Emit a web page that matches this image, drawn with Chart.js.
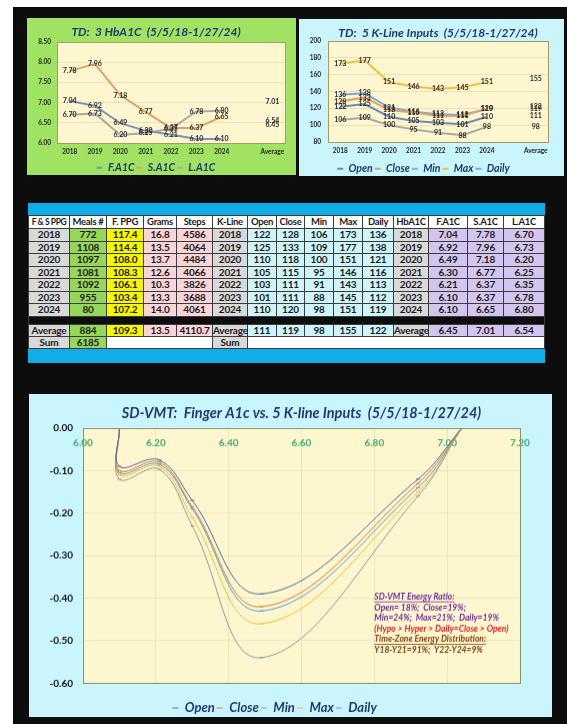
<!DOCTYPE html>
<html>
<head>
<meta charset="utf-8">
<script src="https://cdn.jsdelivr.net/npm/chart.js@4.4.1/dist/chart.umd.min.js"></script>
<style>
  html, body { margin: 0; padding: 0; background: #fff; }
  body { width: 567px; height: 724px; position: relative; overflow: hidden; font-family: Lato, "Open Sans", sans-serif; }
  #backdrop { position: absolute; left: 13px; top: 7px; width: 554px; height: 717px; background: #0d0d0d; }
  .panel, .box { position: absolute; }
  #hbaPanel { left: 27px; top: 18px; width: 269px; height: 157px; background: #a0e262; }
  #kPanel { left: 299px; top: 19px; width: 265px; height: 157px; background: #c9f5fd; }
  #vmtPanel { left: 29px; top: 394px; width: 523px; height: 323px; background: #c9f5fd; }
  #hbaBox { left: 27px; top: 18px; width: 269px; height: 165px; }
  #kBox { left: 299px; top: 19px; width: 265px; height: 165px; }
  #vmtBox { left: 29px; top: 394px; width: 523px; height: 329.5px; }
  #tableWrap { position: absolute; left: 28px; top: 203px; width: 517px; }
  .band { background: #12ade6; }
  #grid { display: grid; gap: 1px; padding: 1px; background: #3c3c3c;
    grid-template-columns: 40px 36px 36px 32px 35px 34px 28px 27px 28px 28px 30px 34px 38px 35px 40px;
    grid-template-rows: 12px repeat(7, 11.5px) 7px 11px 11px; }
  #grid div { font: bold 10px Lato, sans-serif; letter-spacing: -0.2px; text-align: center; line-height: 11.5px; color: #1b1b1b; white-space: nowrap; overflow: visible; }
  #grid div.head { background: #fff; font-size: 9.5px; letter-spacing: -0.3px; line-height: 12px; }
  #grid div.head:first-child { font-size: 8.5px; letter-spacing: -0.4px; }
  #grid div.gap { background: #0d0d0d; grid-column: 1 / -1; }
</style>
</head>
<body>
<div id="backdrop"></div>
<div class="panel" id="hbaPanel"></div>
<div class="panel" id="kPanel"></div>
<div class="panel" id="vmtPanel"></div>
<div class="box" id="hbaBox"><canvas id="hbaChart"></canvas></div>
<div class="box" id="kBox"><canvas id="kChart"></canvas></div>
<div class="box" id="vmtBox"><canvas id="vmtChart"></canvas></div>
<div id="tableWrap">
  <div class="band" style="height:12px"></div>
  <div id="grid"></div>
  <div class="band" style="height:14px"></div>
</div>
<script>
// ---- data ----
const years = ['2018', '2019', '2020', '2021', '2022', '2023', '2024'];
const chartCats = ['2018', '2019', '2020', '2021', '2022', '2023', '2024', '', 'Average'];

const meals = [772, 1108, 1097, 1081, 1092, 955, 80];
const fPpg = [117.4, 114.4, 108.0, 108.3, 106.1, 103.4, 107.2];
const grams = [16.8, 13.5, 13.7, 12.6, 10.3, 13.3, 14.0];
const steps = [4586, 4064, 4484, 4066, 3826, 3688, 4061];
const ppgAverages = ['884', '109.3', '13.5', '4110.7'];
const mealsSum = 6185;

const kOpen = [122, 125, 110, 105, 103, 101, 110];
const kClose = [128, 133, 118, 115, 111, 111, 120];
const kMin = [106, 109, 100, 95, 91, 88, 98];
const kMax = [173, 177, 151, 146, 143, 145, 151];
const kDaily = [136, 138, 121, 116, 113, 112, 119];
const kAverages = [111, 119, 98, 155, 122]; // open, close, min, max, daily

const fA1c = [7.04, 6.92, 6.49, 6.30, 6.21, 6.10, 6.10];
const sA1c = [7.78, 7.96, 7.18, 6.77, 6.37, 6.37, 6.65];
const lA1c = [6.70, 6.73, 6.20, 6.25, 6.35, 6.78, 6.80];
const a1cAverages = [6.45, 7.01, 6.54]; // F, S, L

// SD-VMT values, one per year, plotted against finger A1c (fA1c)
const vmtOpen = [0, -0.12, -0.39, -0.17, -0.075, -0.09, 0];
const vmtClose = [0, -0.13, -0.42, -0.185, -0.08, -0.10, 0];
const vmtMin = [0, -0.16, -0.54, -0.23, -0.097, -0.12, 0];
const vmtMax = [0, -0.15, -0.46, -0.21, -0.09, -0.11, 0];
const vmtDaily = [0, -0.14, -0.43, -0.19, -0.085, -0.105, 0];

const vmtNotes = [
  { text: 'SD-VMT Energy Ratio:', color: '#7030a0', underline: true },
  { text: 'Open= 18%;  Close=19%;', color: '#7030a0' },
  { text: 'Min=24%;  Max=21%;  Daily=19%', color: '#7030a0' },
  { text: '(Hypo > Hyper > Daily=Close > Open)', color: '#e3262b' },
  { text: 'Time-Zone Energy Distribution:', color: '#8b4513', underline: true },
  { text: 'Y18-Y21=91%;  Y22-Y24=9%', color: '#7a4410' }
];

// ---- table ----
const headers = ['F & S PPG', 'Meals #', 'F. PPG', 'Grams', 'Steps', 'K-Line', 'Open', 'Close', 'Min', 'Max', 'Daily', 'HbA1C', 'F.A1C', 'S.A1C', 'L.A1C'];
const colBg = ['#d9d9d9', '#96d65a', '#f6f600', '#f9d4d8', '#f9d4d8', '#d9d9d9', '#cdf5fb', '#cdf5fb', '#cdf5fb', '#cdf5fb', '#cdf5fb', '#d9d9d9', '#d2c6f0', '#d2c6f0', '#d2c6f0'];

const grid = document.getElementById('grid');
function cell(text, bg, cls, span) {
  const d = document.createElement('div');
  d.textContent = text;
  if (bg) d.style.background = bg;
  if (cls) d.className = cls;
  if (span) d.style.gridColumn = 'span ' + span;
  grid.appendChild(d);
}
headers.forEach(h => cell(h, null, 'head'));
years.forEach((y, i) => {
  const row = [y, meals[i], fPpg[i].toFixed(1), grams[i].toFixed(1), steps[i], y,
    kOpen[i], kClose[i], kMin[i], kMax[i], kDaily[i], y,
    fA1c[i].toFixed(2), sA1c[i].toFixed(2), lA1c[i].toFixed(2)];
  row.forEach((v, c) => cell(v, colBg[c]));
});
cell('', null, 'gap');
['Average', ...ppgAverages, 'Average', ...kAverages, 'Average', ...a1cAverages.map(v => v.toFixed(2))]
  .forEach((v, c) => cell(v, colBg[c]));
cell('Sum', colBg[0]);
cell(mealsSum, colBg[1]);
cell('', '#fff', null, 3);
cell('Sum', colBg[5]);
cell('', '#fff', null, 9);

// ---- plugins ----
const plotFrame = {
  id: 'plotFrame',
  beforeDraw(chart, args, opts) {
    const { ctx, chartArea: a } = chart;
    ctx.save();
    ctx.fillStyle = opts.fill;
    ctx.fillRect(a.left, a.top, a.width, a.height);
    ctx.restore();
  },
  afterDraw(chart, args, opts) {
    const { ctx, chartArea: a } = chart;
    ctx.save();
    ctx.strokeStyle = opts.stroke;
    ctx.lineWidth = 1;
    ctx.strokeRect(Math.round(a.left) + 0.5, Math.round(a.top) + 0.5, Math.round(a.width), Math.round(a.height));
    ctx.restore();
  }
};

const valueLabels = {
  id: 'valueLabels',
  afterDatasetsDraw(chart, args, opts) {
    const ctx = chart.ctx;
    ctx.save();
    ctx.font = opts.font;
    ctx.fillStyle = opts.color;
    ctx.textAlign = 'center';
    ctx.textBaseline = 'middle';
    chart.data.datasets.forEach((ds, i) => {
      chart.getDatasetMeta(i).data.forEach((pt, j) => {
        const v = ds.data[j];
        if (v == null) return;
        ctx.fillText(v.toFixed(opts.digits), pt.x, pt.y);
      });
    });
    ctx.restore();
  }
};

const noteBox = {
  id: 'noteBox',
  afterDatasetsDraw(chart, args, opts) {
    const { ctx, scales } = chart;
    const x = scales.x.getPixelForValue(opts.x);
    let y = scales.y.getPixelForValue(opts.y);
    ctx.save();
    ctx.font = 'italic bold 8.5px Lato';
    ctx.textBaseline = 'middle';
    vmtNotes.forEach(l => {
      ctx.fillStyle = l.color;
      ctx.fillText(l.text, x, y);
      if (l.underline) ctx.fillRect(x, y + 4.5, ctx.measureText(l.text).width, 0.8);
      y += opts.step;
    });
    ctx.restore();
  }
};

Chart.defaults.font.family = 'Lato';
Chart.defaults.animation = false;

const navy = '#1f3a6e';
const tickFont = { size: 6.5, weight: 'bold' };

function legendOpts(size, boxW, pad) {
  return {
    position: 'bottom',
    labels: {
      color: navy, font: { size: size, weight: 'bold', style: 'italic' },
      usePointStyle: true, pointStyle: 'line', pointStyleWidth: boxW, boxHeight: boxW, padding: pad
    }
  };
}

// ---- TD: 3 HbA1C ----
const hbaColors = ['#7894ba', '#dba36c', '#a9aaa6'];
new Chart(document.getElementById('hbaChart'), {
  type: 'line',
  data: {
    labels: chartCats,
    datasets: [
      { label: 'F.A1C', data: [...fA1c, null, a1cAverages[0]] },
      { label: 'S.A1C', data: [...sA1c, null, a1cAverages[1]] },
      { label: 'L.A1C', data: [...lA1c, null, a1cAverages[2]] }
    ].map((d, i) => Object.assign(d, { borderColor: hbaColors[i], backgroundColor: hbaColors[i], borderWidth: 2, pointRadius: 0 }))
  },
  options: {
    responsive: true, maintainAspectRatio: false,
    layout: { padding: { right: 11 } },
    plugins: {
      title: { display: true, text: 'TD:  3 HbA1C  (5/5/18-1/27/24)', color: navy,
        font: { size: 12, weight: 'bold', style: 'italic' }, padding: { top: 6.8, bottom: 2.8 } },
      legend: legendOpts(10.5, 6, 2),
      tooltip: { enabled: false },
      plotFrame: { fill: '#fef6cf', stroke: '#a89a62' },
      valueLabels: { digits: 2, font: 'bold 7px Lato', color: '#2b2b2b' }
    },
    scales: {
      x: { offset: true, grid: { display: false, drawTicks: false }, border: { display: false },
        ticks: { font: tickFont, color: '#222', padding: 5, autoSkip: false, maxRotation: 0 },
        afterFit(s) { s.height = 17.5; } },
      y: { min: 6, max: 8.5, grid: { color: '#ebe2bb', drawTicks: false }, border: { display: false },
        ticks: { stepSize: 0.5, callback: v => v.toFixed(2), font: tickFont, color: '#222', padding: 6 },
        afterFit(s) { s.width = 30; } }
    }
  },
  plugins: [plotFrame, valueLabels]
});

// ---- TD: 5 K-Line Inputs ----
const kColors = ['#6d8cb5', '#e2a06c', '#a8a8a8', '#efbf47', '#7fa6d6'];
new Chart(document.getElementById('kChart'), {
  type: 'line',
  data: {
    labels: chartCats,
    datasets: [
      { label: 'Open', data: [...kOpen, null, kAverages[0]] },
      { label: 'Close', data: [...kClose, null, kAverages[1]] },
      { label: 'Min', data: [...kMin, null, kAverages[2]] },
      { label: 'Max', data: [...kMax, null, kAverages[3]] },
      { label: 'Daily', data: [...kDaily, null, kAverages[4]] }
    ].map((d, i) => Object.assign(d, { borderColor: kColors[i], backgroundColor: kColors[i], borderWidth: 2, pointRadius: 0 }))
  },
  options: {
    responsive: true, maintainAspectRatio: false,
    layout: { padding: { right: 16 } },
    plugins: {
      title: { display: true, fullSize: false, text: 'TD:  5 K-Line Inputs  (5/5/18-1/27/24)', color: navy,
        font: { size: 12, weight: 'bold', style: 'italic' }, padding: { top: 6.8, bottom: 0.8 } },
      legend: legendOpts(10.5, 6, 2),
      tooltip: { enabled: false },
      plotFrame: { fill: '#fef6cf', stroke: '#a89a62' },
      valueLabels: { digits: 0, font: 'bold 7px Lato', color: '#2b2b2b' }
    },
    scales: {
      x: { offset: true, grid: { display: false, drawTicks: false }, border: { display: false },
        ticks: { font: tickFont, color: '#222', padding: 5, autoSkip: false, maxRotation: 0 },
        afterFit(s) { s.height = 19.5; } },
      y: { min: 80, max: 200, grid: { color: '#ebe2bb', drawTicks: false }, border: { display: false },
        ticks: { stepSize: 20, font: tickFont, color: '#222', padding: 7 },
        afterFit(s) { s.width = 29; } }
    }
  },
  plugins: [plotFrame, valueLabels]
});

// ---- SD-VMT curves ----
const vmtColors = ['#4a6fa5', '#e07b39', '#9a9a9a', '#f2c12e', '#5b9bd5'];
const vmtSeries = [['Open', vmtOpen], ['Close', vmtClose], ['Min', vmtMin], ['Max', vmtMax], ['Daily', vmtDaily]];
new Chart(document.getElementById('vmtChart'), {
  type: 'scatter',
  data: {
    datasets: vmtSeries.map(([name, vals], i) => ({
      label: name,
      data: fA1c.map((x, j) => ({ x: x, y: vals[j] })),
      showLine: true, tension: 0.4,
      borderColor: vmtColors[i], backgroundColor: vmtColors[i], borderWidth: 1,
      pointStyle: 'line', pointRadius: 2, pointBorderWidth: 1
    }))
  },
  options: {
    responsive: true, maintainAspectRatio: false,
    layout: { padding: { right: 32 } },
    plugins: {
      title: { display: true, fullSize: false, text: 'SD-VMT:  Finger A1c vs. 5 K-line Inputs  (5/5/18-1/27/24)', color: navy,
        font: { size: 14.5, weight: 'bold', style: 'italic' }, padding: { top: 10.3, bottom: 6.3 } },
      legend: Object.assign(legendOpts(13, 6, 2), { title: { display: true, text: '', padding: 0, font: { size: 13.5 } } }),
      tooltip: { enabled: false },
      plotFrame: { fill: '#fef6cf', stroke: '#8f8f6c' },
      noteBox: { x: 6.80, y: -0.397, step: 10.6 }
    },
    scales: {
      x: { type: 'linear', position: 'top', min: 6, max: 7.2,
        grid: { color: 'rgba(170,160,110,0.18)', drawTicks: false }, border: { display: false },
        ticks: { stepSize: 0.2, mirror: true, padding: 8.5, callback: v => v.toFixed(2),
          color: '#3cae6e', font: { size: 10, weight: 'bold' } },
        afterFit(s) { s.height = 0; } },
      y: { min: -0.6, max: 0, grid: { color: 'rgba(170,160,110,0.18)', drawTicks: false }, border: { display: false },
        ticks: { stepSize: 0.1, callback: v => v.toFixed(2), color: '#111', font: { size: 10, weight: 'bold' }, padding: 10 },
        afterFit(s) { s.width = 54; } }
    }
  },
  plugins: [plotFrame, noteBox]
});
</script>
</body>
</html>
